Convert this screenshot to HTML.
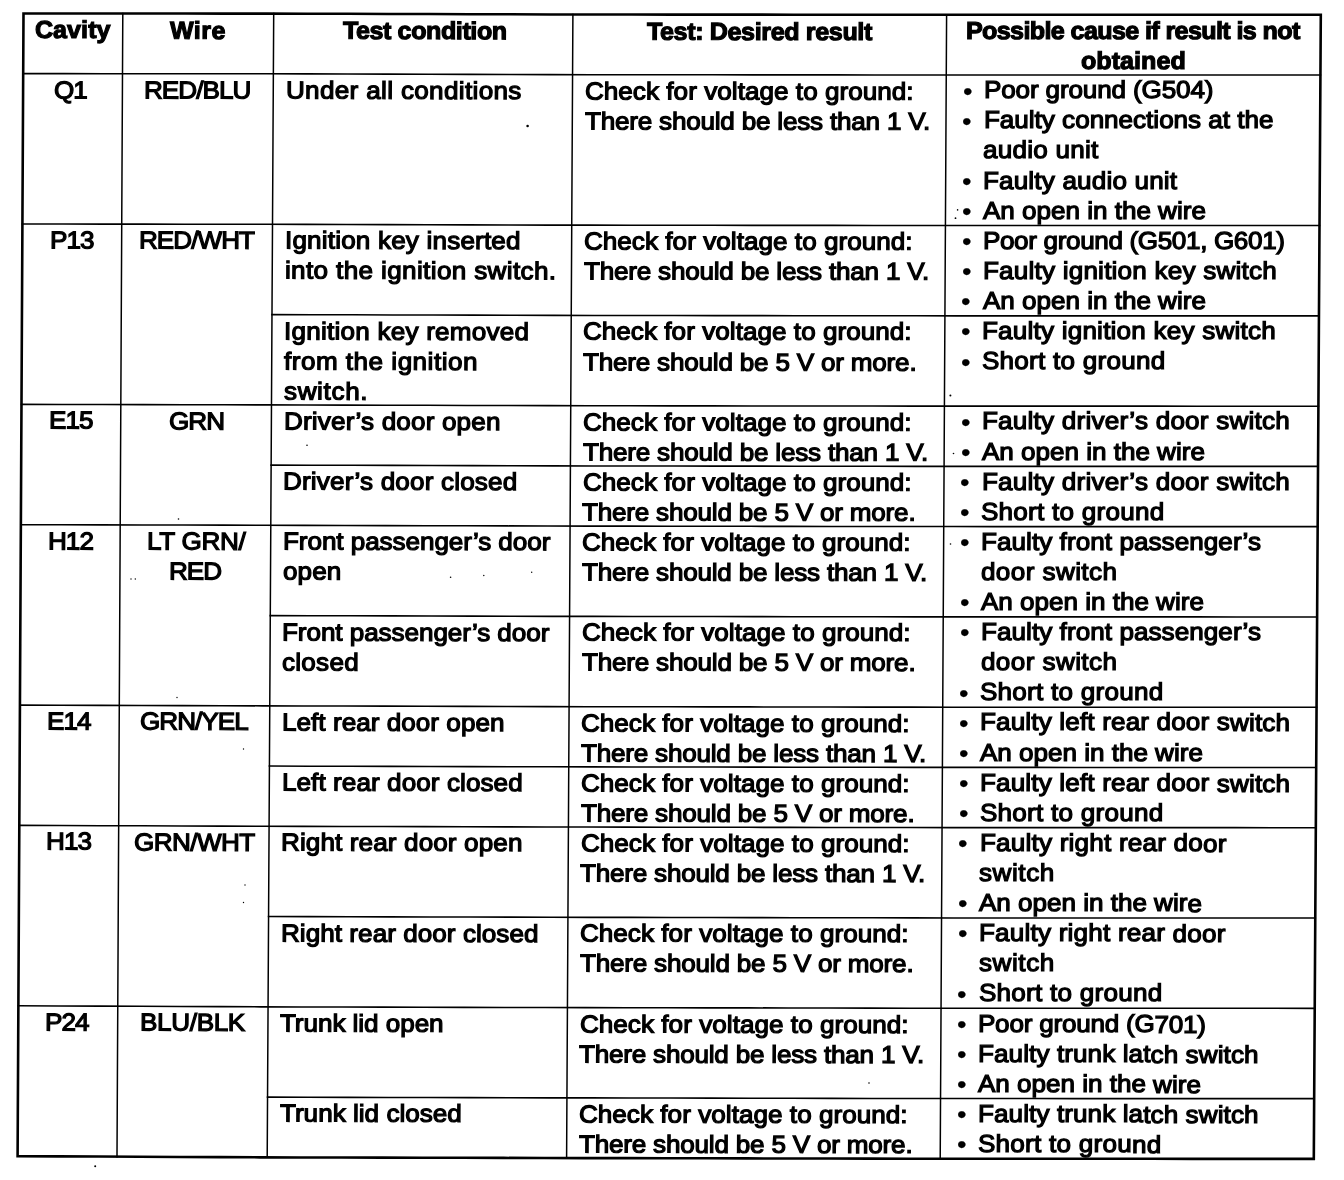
<!DOCTYPE html>
<html><head><meta charset="utf-8"><title>Connector test table</title>
<style>
html,body{margin:0;padding:0;background:#fff;}
body{width:1344px;height:1180px;overflow:hidden;position:relative;}
#pg{position:absolute;left:0;top:0;width:1344px;height:1180px;background:#fff;filter:grayscale(1);}
#pg svg.g{position:absolute;left:0;top:0;}
#pg div{position:absolute;white-space:nowrap;font-family:"Liberation Sans",Arial,sans-serif;font-size:26px;line-height:30.07px;color:#000;-webkit-text-stroke:1.3px #000;transform-origin:0 15.0px;}
#pg div.b{font-size:27px;-webkit-text-stroke:0.3px #000;}
#pg div.h{font-weight:bold;font-size:25px;-webkit-text-stroke:1.2px #000;}
</style></head><body>
<div id="pg">
<svg class="g" width="1344" height="1180" viewBox="0 0 1344 1180" fill="none" stroke="#000" stroke-linecap="square" stroke-linejoin="miter">
<path stroke-width="2.6" d="M23.5 13.5 L64.04 13.52 L104.58 13.53 L145.12 13.55 L185.66 13.56 L226.2 13.58 L266.74 13.6 L307.28 13.7 L347.82 13.82 L388.37 13.94 L428.91 14.07 L469.45 14.19 L509.99 14.31 L550.53 14.43 L591.07 14.51 L631.61 14.55 L672.15 14.58 L712.69 14.61 L753.23 14.64 L793.77 14.68 L834.31 14.71 L874.85 14.74 L915.39 14.77 L955.93 14.8 L996.47 14.8 L1037.02 14.8 L1077.56 14.8 L1118.1 14.8 L1158.64 14.8 L1199.18 14.8 L1239.72 14.8 L1280.26 14.8 L1320.8 14.8 L1320.56 54.25 L1320.32 93.7 L1320.08 133.15 L1319.83 172.6 L1319.59 212.05 L1319.35 251.5 L1319.11 290.95 L1318.87 330.4 L1318.63 369.85 L1318.39 409.3 L1318.14 448.75 L1317.9 488.2 L1317.66 527.65 L1317.42 567.1 L1317.18 606.56 L1316.94 646.01 L1316.7 685.46 L1316.46 724.91 L1316.21 764.36 L1315.97 803.81 L1315.73 843.26 L1315.49 882.71 L1315.25 922.16 L1315.01 961.61 L1314.77 1001.06 L1314.52 1040.51 L1314.28 1079.96 L1314.04 1119.41 L1313.8 1158.86 L1273.32 1158.85 L1232.85 1158.84 L1192.37 1158.83 L1151.9 1158.82 L1111.42 1158.81 L1070.95 1158.79 L1030.47 1158.78 L990 1158.77 L949.52 1158.76 L909 1158.7 L868.47 1158.63 L827.94 1158.55 L787.41 1158.47 L746.88 1158.4 L706.35 1158.32 L665.82 1158.25 L625.29 1158.17 L584.76 1158.09 L544.21 1158.01 L503.65 1157.91 L463.08 1157.82 L422.51 1157.72 L381.94 1157.63 L341.37 1157.53 L300.81 1157.44 L260.28 1157.33 L219.92 1157.13 L179.57 1156.94 L139.22 1156.74 L98.76 1156.55 L58.18 1156.35 L17.6 1156.16 L17.8 1116.76 L18.01 1077.36 L18.21 1037.95 L18.41 998.55 L18.62 959.15 L18.82 919.75 L19.02 880.35 L19.23 840.94 L19.43 801.54 L19.63 762.14 L19.84 722.74 L20.04 683.34 L20.24 643.93 L20.45 604.53 L20.65 565.13 L20.86 525.73 L21.06 486.32 L21.26 446.92 L21.47 407.52 L21.67 368.12 L21.87 328.72 L22.08 289.31 L22.28 249.91 L22.48 210.51 L22.69 171.11 L22.89 131.71 L23.09 92.3 L23.3 52.9 Z"/>
<path stroke-width="1.6" d="M23.19 73.64 L63.73 73.67 L104.28 73.69 L144.81 73.72 L185.34 73.74 L225.87 73.77 L266.4 73.79 L306.94 73.9 L347.49 74.02 L388.03 74.14 L428.57 74.26 L469.11 74.38 L509.65 74.5 L550.2 74.62 L590.74 74.7 L631.28 74.74 L671.82 74.77 L712.36 74.81 L752.9 74.84 L793.44 74.88 L833.98 74.91 L874.52 74.95 L915.06 74.98 L955.6 75.01 L996.13 75.01 L1036.67 75.01 L1077.21 75.01 L1117.75 75.01 L1158.28 75.01 L1198.82 75.01 L1239.36 75.01 L1279.89 75.01 L1320.43 75.01 M22.41 223.99 L62.96 224.04 L103.51 224.09 L144.03 224.14 L184.54 224.19 L225.05 224.24 L265.55 224.28 L306.09 224.39 L346.64 224.51 L387.18 224.62 L427.73 224.74 L468.27 224.86 L508.82 224.97 L549.36 225.09 L589.91 225.17 L630.45 225.21 L670.98 225.26 L711.52 225.3 L752.06 225.34 L792.6 225.38 L833.14 225.42 L873.68 225.46 L914.22 225.5 L954.75 225.53 L995.28 225.53 L1035.81 225.53 L1076.34 225.54 L1116.87 225.54 L1157.4 225.54 L1197.92 225.54 L1238.45 225.54 L1278.98 225.55 L1319.51 225.55 M271.99 314.59 L312.27 314.7 L352.55 314.82 L392.83 314.93 L433.11 315.05 L473.39 315.16 L513.67 315.27 L553.95 315.39 L594.23 315.46 L634.5 315.51 L674.77 315.55 L715.04 315.59 L755.31 315.64 L795.58 315.68 L835.85 315.72 L876.12 315.77 L916.39 315.81 L956.65 315.84 L996.91 315.85 L1037.17 315.85 L1077.42 315.85 L1117.68 315.85 L1157.93 315.86 L1198.19 315.86 L1238.45 315.86 L1278.7 315.87 L1318.96 315.87 M21.48 404.41 L62.04 404.49 L102.59 404.56 L143.1 404.64 L183.58 404.72 L224.05 404.8 L264.53 404.87 L305.07 404.98 L345.62 405.09 L386.17 405.21 L426.72 405.32 L467.27 405.43 L507.82 405.54 L548.37 405.66 L588.91 405.74 L629.45 405.79 L669.99 405.83 L710.52 405.88 L751.06 405.93 L791.6 405.98 L832.13 406.02 L872.67 406.07 L913.21 406.12 L953.74 406.16 L994.26 406.16 L1034.78 406.16 L1075.29 406.17 L1115.81 406.17 L1156.33 406.17 L1196.85 406.18 L1237.37 406.18 L1277.89 406.19 L1318.41 406.19 M271.13 465.08 L311.42 465.19 L351.7 465.31 L391.99 465.42 L432.27 465.53 L472.55 465.64 L512.84 465.75 L553.12 465.86 L593.4 465.93 L633.66 465.98 L673.93 466.03 L714.2 466.08 L754.47 466.13 L794.74 466.18 L835.01 466.23 L875.28 466.28 L915.55 466.33 L955.81 466.36 L996.06 466.37 L1036.3 466.37 L1076.55 466.38 L1116.8 466.38 L1157.05 466.39 L1197.29 466.39 L1237.54 466.39 L1277.79 466.4 L1318.04 466.4 M20.86 524.69 L61.42 524.79 L101.98 524.88 L142.48 524.98 L182.94 525.07 L223.39 525.17 L263.85 525.27 L304.39 525.37 L344.94 525.48 L385.49 525.59 L426.04 525.7 L466.6 525.81 L507.15 525.92 L547.7 526.03 L588.25 526.12 L628.78 526.17 L669.32 526.22 L709.86 526.27 L750.39 526.32 L790.93 526.38 L831.46 526.43 L872 526.48 L912.53 526.53 L953.06 526.57 L993.58 526.58 L1034.09 526.58 L1074.6 526.59 L1115.11 526.59 L1155.62 526.6 L1196.13 526.6 L1236.65 526.61 L1277.16 526.61 L1317.67 526.62 M270.28 615.58 L310.57 615.69 L350.85 615.79 L391.14 615.9 L431.43 616.01 L471.72 616.11 L512 616.22 L552.29 616.33 L592.57 616.41 L632.83 616.46 L673.1 616.52 L713.37 616.57 L753.64 616.63 L793.9 616.68 L834.17 616.74 L874.44 616.79 L914.7 616.85 L954.96 616.89 L995.2 616.89 L1035.44 616.9 L1075.68 616.9 L1115.92 616.91 L1156.16 616.91 L1196.4 616.92 L1236.64 616.93 L1276.88 616.93 L1317.12 616.94 M19.93 705.11 L60.49 705.23 L101.06 705.36 L141.55 705.48 L181.98 705.61 L222.4 705.73 L262.83 705.85 L303.36 705.96 L343.92 706.07 L384.48 706.17 L425.03 706.28 L465.59 706.39 L506.15 706.49 L546.71 706.6 L587.25 706.68 L627.79 706.74 L668.32 706.8 L708.85 706.86 L749.39 706.92 L789.92 706.98 L830.46 707.03 L870.99 707.09 L911.53 707.15 L952.05 707.2 L992.55 707.2 L1033.05 707.21 L1073.56 707.22 L1114.06 707.22 L1154.56 707.23 L1195.06 707.24 L1235.56 707.24 L1276.06 707.25 L1316.56 707.26 M269.42 766.07 L309.71 766.18 L350.01 766.28 L390.3 766.38 L430.59 766.49 L470.88 766.59 L511.17 766.69 L551.46 766.8 L591.74 766.88 L632 766.94 L672.27 767 L712.53 767.06 L752.8 767.12 L793.07 767.18 L833.33 767.24 L873.6 767.3 L913.86 767.36 L954.12 767.41 L994.35 767.41 L1034.58 767.42 L1074.81 767.43 L1115.04 767.44 L1155.27 767.44 L1195.5 767.45 L1235.73 767.46 L1275.96 767.46 L1316.19 767.47 M19.31 825.39 L59.88 825.53 L100.45 825.68 L140.93 825.82 L181.33 825.96 L221.74 826.1 L262.15 826.25 L302.68 826.36 L343.24 826.46 L383.8 826.56 L424.36 826.66 L464.92 826.77 L505.48 826.87 L546.04 826.97 L586.59 827.06 L627.12 827.12 L667.65 827.18 L708.19 827.25 L748.72 827.31 L789.25 827.37 L829.79 827.44 L870.32 827.5 L910.85 827.56 L951.38 827.62 L991.87 827.62 L1032.37 827.63 L1072.86 827.64 L1113.35 827.65 L1153.85 827.65 L1194.34 827.66 L1234.84 827.67 L1275.33 827.68 L1315.83 827.68 M268.57 916.57 L308.86 916.67 L349.16 916.77 L389.45 916.87 L429.75 916.97 L470.04 917.07 L510.33 917.17 L550.63 917.27 L590.91 917.35 L631.17 917.41 L671.44 917.48 L711.7 917.55 L751.96 917.61 L792.23 917.68 L832.49 917.75 L872.76 917.81 L913.02 917.88 L953.27 917.93 L993.5 917.94 L1033.72 917.95 L1073.94 917.95 L1114.16 917.96 L1154.39 917.97 L1194.61 917.98 L1234.83 917.99 L1275.05 918 L1315.27 918.01 M18.38 1005.81 L58.95 1005.98 L99.53 1006.15 L140 1006.32 L180.37 1006.49 L220.75 1006.66 L261.13 1006.84 L301.66 1006.95 L342.22 1007.05 L382.79 1007.14 L423.35 1007.24 L463.92 1007.34 L504.48 1007.44 L545.04 1007.54 L585.59 1007.62 L626.12 1007.69 L666.66 1007.76 L707.19 1007.83 L747.72 1007.9 L788.25 1007.97 L828.78 1008.04 L869.31 1008.11 L909.84 1008.18 L950.36 1008.24 L990.85 1008.25 L1031.33 1008.26 L1071.82 1008.27 L1112.3 1008.28 L1152.78 1008.29 L1193.27 1008.3 L1233.75 1008.31 L1274.24 1008.32 L1314.72 1008.33 M267.54 1097.16 L307.84 1097.26 L348.14 1097.35 L388.44 1097.45 L428.74 1097.54 L469.04 1097.64 L509.33 1097.74 L549.63 1097.83 L589.91 1097.91 L630.17 1097.99 L670.44 1098.06 L710.7 1098.13 L750.96 1098.21 L791.22 1098.28 L831.49 1098.35 L871.75 1098.43 L912.01 1098.5 L952.26 1098.55 L992.47 1098.56 L1032.69 1098.57 L1072.9 1098.59 L1113.11 1098.6 L1153.32 1098.61 L1193.53 1098.62 L1233.74 1098.63 L1273.96 1098.64 L1314.17 1098.65"/>
<path stroke-width="1.5" d="M122.8 13.54 L122.59 54.36 L122.39 95.19 L122.18 136.01 L121.97 176.84 L121.76 217.66 L121.56 258.49 L121.35 299.31 L121.14 340.14 L120.94 380.96 L120.73 421.79 L120.52 462.61 L120.31 503.44 L120.11 544.26 L119.9 585.09 L119.69 625.91 L119.49 666.74 L119.28 707.56 L119.07 748.39 L118.86 789.21 L118.66 830.04 L118.45 870.86 L118.24 911.69 L118.04 952.51 L117.83 993.34 L117.62 1034.16 L117.41 1074.99 L117.21 1115.81 L117 1156.64 M273.7 13.6 L273.47 54.45 L273.24 95.3 L273 136.15 L272.77 176.99 L272.54 217.84 L272.31 258.69 L272.07 299.54 L271.84 340.39 L271.61 381.24 L271.38 422.09 L271.15 462.93 L270.91 503.78 L270.68 544.63 L270.45 585.48 L270.22 626.33 L269.99 667.18 L269.75 708.03 L269.52 748.87 L269.29 789.72 L269.06 830.57 L268.82 871.42 L268.59 912.27 L268.36 953.12 L268.13 993.97 L267.9 1034.81 L267.66 1075.66 L267.43 1116.51 L267.2 1157.36 M572.9 14.5 L572.67 55.34 L572.45 96.18 L572.23 137.02 L572 177.87 L571.77 218.71 L571.55 259.55 L571.32 300.39 L571.1 341.23 L570.88 382.07 L570.65 422.91 L570.42 463.76 L570.2 504.6 L569.98 545.44 L569.75 586.28 L569.52 627.12 L569.3 667.96 L569.07 708.8 L568.85 749.65 L568.62 790.49 L568.4 831.33 L568.17 872.17 L567.95 913.01 L567.73 953.85 L567.5 994.69 L567.27 1035.54 L567.05 1076.38 L566.82 1117.22 L566.6 1158.06 M946.6 14.8 L946.37 55.66 L946.14 96.51 L945.91 137.37 L945.69 178.22 L945.46 219.08 L945.23 259.93 L945 300.79 L944.77 341.65 L944.54 382.5 L944.31 423.36 L944.09 464.21 L943.86 505.07 L943.63 545.92 L943.4 586.78 L943.17 627.64 L942.94 668.49 L942.71 709.35 L942.49 750.2 L942.26 791.06 L942.03 831.91 L941.8 872.77 L941.57 913.63 L941.34 954.48 L941.11 995.34 L940.89 1036.19 L940.66 1077.05 L940.43 1117.9 L940.2 1158.76"/>
<g fill="#000" stroke="none">
<circle cx="527.6" cy="126.0" r="1.3"/>
<circle cx="957.6" cy="209.9" r="0.8"/>
<circle cx="955.5" cy="218.2" r="0.9"/>
<circle cx="950.4" cy="395.5" r="1.0"/>
<circle cx="307" cy="445.2" r="0.8"/>
<circle cx="450.6" cy="577.2" r="0.8"/>
<circle cx="483.8" cy="575.5" r="0.7"/>
<circle cx="531.7" cy="572.3" r="0.7"/>
<circle cx="131" cy="579" r="0.7"/>
<circle cx="135.3" cy="579" r="0.7"/>
<circle cx="178.5" cy="519" r="0.8"/>
<circle cx="95.2" cy="1166.3" r="1.0"/>
<circle cx="869" cy="1083" r="0.8"/>
<circle cx="953.5" cy="453.5" r="0.8"/>
<circle cx="950.5" cy="544" r="0.8"/>
<circle cx="177" cy="697.5" r="0.7"/>
<circle cx="243.5" cy="749" r="0.7"/>
<circle cx="245" cy="885" r="0.7"/>
<circle cx="243.5" cy="902.5" r="0.7"/>
</g>
</svg>
<div class="h" style="left:35.03px;top:14.46px;letter-spacing:0.100px;transform:matrix(1,0.00040,-0.00505,0.98,0,0)">Cavity</div>
<div class="h" style="left:170.33px;top:14.52px;letter-spacing:0.500px;transform:matrix(1,0.00166,-0.00516,0.98,0,0)">Wire</div>
<div class="h" style="left:342.84px;top:14.76px;letter-spacing:-0.369px;transform:matrix(1,0.00301,-0.00554,0.98,0,0)">Test condition</div>
<div class="h" style="left:647.24px;top:15.52px;letter-spacing:-0.326px;transform:matrix(1,0.00080,-0.00542,0.98,0,0)">Test: Desired result</div>
<div class="h" style="left:965.94px;top:15.06px;letter-spacing:-0.573px;transform:matrix(1,0.00000,-0.00552,0.98,0,0)">Possible cause if result is not</div>
<div class="h" style="left:1081.14px;top:45.16px;letter-spacing:0.086px;transform:matrix(1,0.00001,-0.00567,0.98,0,0)">obtained</div>
<div style="left:54.43px;top:74.62px;letter-spacing:-0.900px;transform:matrix(1,0.00063,-0.00483,0.94,0,0)">Q1</div>
<div style="left:143.85px;top:74.67px;letter-spacing:-0.900px;transform:matrix(1,0.00146,-0.00485,0.94,0,0)">RED/BLU</div>
<div style="left:285.55px;top:74.79px;letter-spacing:0.368px;transform:matrix(1,0.00297,-0.00534,0.94,0,0)">Under all conditions</div>
<div style="left:584.76px;top:75.65px;letter-spacing:0.074px;transform:matrix(1,0.00086,-0.00519,0.94,0,0)">Check for voltage to ground:</div>
<div style="left:584.6px;top:105.75px;letter-spacing:-0.172px;transform:matrix(1,0.00089,-0.00519,0.94,0,0)">There should be less than 1 V.</div>
<div class="b" style="left:962.56px;top:76.57px;transform:matrix(1,0.00001,-0.00529,0.94,0,0)">•</div>
<div style="left:983.75px;top:75.27px;letter-spacing:-0.106px;transform:matrix(1,0.00001,-0.00531,0.94,0,0)">Poor ground (G504)</div>
<div class="b" style="left:962.39px;top:106.67px;transform:matrix(1,0.00002,-0.00529,0.94,0,0)">•</div>
<div style="left:983.58px;top:105.37px;letter-spacing:0.021px;transform:matrix(1,0.00002,-0.00531,0.94,0,0)">Faulty connections at the</div>
<div style="left:983.41px;top:135.47px;letter-spacing:0.278px;transform:matrix(1,0.00003,-0.00531,0.94,0,0)">audio unit</div>
<div class="b" style="left:962.05px;top:166.88px;transform:matrix(1,0.00004,-0.00529,0.94,0,0)">•</div>
<div style="left:983.24px;top:165.58px;letter-spacing:0.206px;transform:matrix(1,0.00004,-0.00531,0.94,0,0)">Faulty audio unit</div>
<div class="b" style="left:961.88px;top:196.98px;transform:matrix(1,0.00004,-0.00529,0.94,0,0)">•</div>
<div style="left:983.07px;top:195.68px;letter-spacing:0.017px;transform:matrix(1,0.00004,-0.00531,0.94,0,0)">An open in the wire</div>
<div style="left:50.47px;top:224.98px;letter-spacing:-0.900px;transform:matrix(1,0.00121,-0.00483,0.94,0,0)">P13</div>
<div style="left:139.08px;top:225.09px;letter-spacing:-0.883px;transform:matrix(1,0.00177,-0.00484,0.94,0,0)">RED/WHT</div>
<div style="left:284.7px;top:225.28px;letter-spacing:0.215px;transform:matrix(1,0.00288,-0.00534,0.94,0,0)">Ignition key inserted</div>
<div style="left:284.53px;top:255.38px;letter-spacing:0.396px;transform:matrix(1,0.00287,-0.00534,0.94,0,0)">into the ignition switch.</div>
<div style="left:583.93px;top:226.12px;letter-spacing:0.074px;transform:matrix(1,0.00100,-0.00519,0.94,0,0)">Check for voltage to ground:</div>
<div style="left:583.77px;top:256.22px;letter-spacing:-0.172px;transform:matrix(1,0.00103,-0.00519,0.94,0,0)">There should be less than 1 V.</div>
<div class="b" style="left:961.71px;top:227.09px;transform:matrix(1,0.00005,-0.00529,0.94,0,0)">•</div>
<div style="left:982.9px;top:225.79px;letter-spacing:-0.317px;transform:matrix(1,0.00005,-0.00531,0.94,0,0)">Poor ground (G501, G601)</div>
<div class="b" style="left:961.54px;top:257.19px;transform:matrix(1,0.00006,-0.00529,0.94,0,0)">•</div>
<div style="left:982.73px;top:255.89px;letter-spacing:0.244px;transform:matrix(1,0.00006,-0.00531,0.94,0,0)">Faulty ignition key switch</div>
<div class="b" style="left:961.37px;top:287.3px;transform:matrix(1,0.00006,-0.00529,0.94,0,0)">•</div>
<div style="left:982.56px;top:286px;letter-spacing:0.017px;transform:matrix(1,0.00006,-0.00531,0.94,0,0)">An open in the wire</div>
<div style="left:284.19px;top:315.58px;letter-spacing:0.268px;transform:matrix(1,0.00283,-0.00534,0.94,0,0)">Ignition key removed</div>
<div style="left:284.02px;top:345.68px;letter-spacing:0.531px;transform:matrix(1,0.00281,-0.00534,0.94,0,0)">from the ignition</div>
<div style="left:283.84px;top:375.78px;letter-spacing:0.683px;transform:matrix(1,0.00280,-0.00534,0.94,0,0)">switch.</div>
<div style="left:583.44px;top:316.41px;letter-spacing:0.074px;transform:matrix(1,0.00109,-0.00519,0.94,0,0)">Check for voltage to ground:</div>
<div style="left:583.27px;top:346.5px;letter-spacing:-0.167px;transform:matrix(1,0.00111,-0.00519,0.94,0,0)">There should be 5 V or more.</div>
<div class="b" style="left:961.2px;top:317.4px;transform:matrix(1,0.00007,-0.00529,0.94,0,0)">•</div>
<div style="left:982.39px;top:316.1px;letter-spacing:0.244px;transform:matrix(1,0.00007,-0.00531,0.94,0,0)">Faulty ignition key switch</div>
<div class="b" style="left:961.03px;top:347.5px;transform:matrix(1,0.00008,-0.00529,0.94,0,0)">•</div>
<div style="left:982.22px;top:346.21px;letter-spacing:0.286px;transform:matrix(1,0.00008,-0.00531,0.94,0,0)">Short to ground</div>
<div style="left:49.37px;top:405.42px;letter-spacing:-0.900px;transform:matrix(1,0.00191,-0.00483,0.94,0,0)">E15</div>
<div style="left:168.62px;top:405.65px;letter-spacing:-0.900px;transform:matrix(1,0.00233,-0.00495,0.94,0,0)">GRN</div>
<div style="left:283.67px;top:405.88px;letter-spacing:0.206px;transform:matrix(1,0.00278,-0.00534,0.94,0,0)">Driver’s door open</div>
<div style="left:582.94px;top:406.69px;letter-spacing:0.074px;transform:matrix(1,0.00117,-0.00519,0.94,0,0)">Check for voltage to ground:</div>
<div style="left:582.77px;top:436.78px;letter-spacing:-0.172px;transform:matrix(1,0.00120,-0.00519,0.94,0,0)">There should be less than 1 V.</div>
<div class="b" style="left:960.7px;top:407.71px;transform:matrix(1,0.00009,-0.00529,0.94,0,0)">•</div>
<div style="left:981.88px;top:406.42px;letter-spacing:0.262px;transform:matrix(1,0.00009,-0.00531,0.94,0,0)">Faulty driver’s door switch</div>
<div class="b" style="left:960.53px;top:437.82px;transform:matrix(1,0.00010,-0.00529,0.94,0,0)">•</div>
<div style="left:981.71px;top:436.52px;letter-spacing:0.017px;transform:matrix(1,0.00010,-0.00531,0.94,0,0)">An open in the wire</div>
<div style="left:283.33px;top:466.07px;letter-spacing:0.211px;transform:matrix(1,0.00274,-0.00534,0.94,0,0)">Driver’s door closed</div>
<div style="left:582.61px;top:466.88px;letter-spacing:0.074px;transform:matrix(1,0.00123,-0.00519,0.94,0,0)">Check for voltage to ground:</div>
<div style="left:582.44px;top:496.97px;letter-spacing:-0.167px;transform:matrix(1,0.00125,-0.00519,0.94,0,0)">There should be 5 V or more.</div>
<div class="b" style="left:960.36px;top:467.92px;transform:matrix(1,0.00011,-0.00529,0.94,0,0)">•</div>
<div style="left:981.54px;top:466.62px;letter-spacing:0.262px;transform:matrix(1,0.00011,-0.00531,0.94,0,0)">Faulty driver’s door switch</div>
<div class="b" style="left:960.19px;top:498.03px;transform:matrix(1,0.00011,-0.00529,0.94,0,0)">•</div>
<div style="left:981.37px;top:496.73px;letter-spacing:0.286px;transform:matrix(1,0.00011,-0.00531,0.94,0,0)">Short to ground</div>
<div style="left:48.06px;top:525.71px;letter-spacing:-0.900px;transform:matrix(1,0.00237,-0.00483,0.94,0,0)">H12</div>
<div style="left:146.53px;top:525.94px;letter-spacing:-0.233px;transform:matrix(1,0.00250,-0.00487,0.94,0,0)">LT GRN/</div>
<div style="left:168.74px;top:556.08px;letter-spacing:-0.900px;transform:matrix(1,0.00259,-0.00496,0.94,0,0)">RED</div>
<div style="left:282.99px;top:526.27px;letter-spacing:-0.024px;transform:matrix(1,0.00271,-0.00534,0.94,0,0)">Front passenger’s door</div>
<div style="left:282.82px;top:556.37px;letter-spacing:0.167px;transform:matrix(1,0.00269,-0.00534,0.94,0,0)">open</div>
<div style="left:582.27px;top:527.07px;letter-spacing:0.074px;transform:matrix(1,0.00128,-0.00519,0.94,0,0)">Check for voltage to ground:</div>
<div style="left:582.11px;top:557.16px;letter-spacing:-0.172px;transform:matrix(1,0.00131,-0.00519,0.94,0,0)">There should be less than 1 V.</div>
<div class="b" style="left:960.02px;top:528.13px;transform:matrix(1,0.00012,-0.00529,0.94,0,0)">•</div>
<div style="left:981.2px;top:526.83px;letter-spacing:0.091px;transform:matrix(1,0.00012,-0.00531,0.94,0,0)">Faulty front passenger’s</div>
<div style="left:981.03px;top:556.94px;letter-spacing:0.450px;transform:matrix(1,0.00013,-0.00531,0.94,0,0)">door switch</div>
<div class="b" style="left:959.68px;top:588.34px;transform:matrix(1,0.00013,-0.00529,0.94,0,0)">•</div>
<div style="left:980.86px;top:587.04px;letter-spacing:0.017px;transform:matrix(1,0.00013,-0.00531,0.94,0,0)">An open in the wire</div>
<div style="left:282.48px;top:616.57px;letter-spacing:-0.024px;transform:matrix(1,0.00266,-0.00534,0.94,0,0)">Front passenger’s door</div>
<div style="left:282.31px;top:646.67px;letter-spacing:0.300px;transform:matrix(1,0.00264,-0.00534,0.94,0,0)">closed</div>
<div style="left:581.78px;top:617.35px;letter-spacing:0.074px;transform:matrix(1,0.00137,-0.00519,0.94,0,0)">Check for voltage to ground:</div>
<div style="left:581.61px;top:647.44px;letter-spacing:-0.167px;transform:matrix(1,0.00140,-0.00519,0.94,0,0)">There should be 5 V or more.</div>
<div class="b" style="left:959.51px;top:618.44px;transform:matrix(1,0.00014,-0.00529,0.94,0,0)">•</div>
<div style="left:980.69px;top:617.15px;letter-spacing:0.091px;transform:matrix(1,0.00014,-0.00531,0.94,0,0)">Faulty front passenger’s</div>
<div style="left:980.52px;top:647.25px;letter-spacing:0.450px;transform:matrix(1,0.00015,-0.00531,0.94,0,0)">door switch</div>
<div class="b" style="left:959.17px;top:678.65px;transform:matrix(1,0.00015,-0.00529,0.94,0,0)">•</div>
<div style="left:980.35px;top:677.36px;letter-spacing:0.286px;transform:matrix(1,0.00015,-0.00531,0.94,0,0)">Short to ground</div>
<div style="left:47.26px;top:706.15px;letter-spacing:-0.900px;transform:matrix(1,0.00306,-0.00483,0.94,0,0)">E14</div>
<div style="left:139.78px;top:706.43px;letter-spacing:-0.900px;transform:matrix(1,0.00290,-0.00485,0.94,0,0)">GRN/YEL</div>
<div style="left:281.97px;top:706.86px;letter-spacing:0.072px;transform:matrix(1,0.00260,-0.00534,0.94,0,0)">Left rear door open</div>
<div style="left:581.28px;top:707.63px;letter-spacing:0.074px;transform:matrix(1,0.00145,-0.00519,0.94,0,0)">Check for voltage to ground:</div>
<div style="left:581.11px;top:737.72px;letter-spacing:-0.172px;transform:matrix(1,0.00148,-0.00519,0.94,0,0)">There should be less than 1 V.</div>
<div class="b" style="left:959.01px;top:708.76px;transform:matrix(1,0.00016,-0.00529,0.94,0,0)">•</div>
<div style="left:980.18px;top:707.46px;letter-spacing:0.189px;transform:matrix(1,0.00016,-0.00531,0.94,0,0)">Faulty left rear door switch</div>
<div class="b" style="left:958.84px;top:738.86px;transform:matrix(1,0.00017,-0.00529,0.94,0,0)">•</div>
<div style="left:980.01px;top:737.56px;letter-spacing:0.017px;transform:matrix(1,0.00017,-0.00531,0.94,0,0)">An open in the wire</div>
<div style="left:281.62px;top:767.06px;letter-spacing:0.110px;transform:matrix(1,0.00257,-0.00534,0.94,0,0)">Left rear door closed</div>
<div style="left:580.95px;top:767.82px;letter-spacing:0.074px;transform:matrix(1,0.00151,-0.00519,0.94,0,0)">Check for voltage to ground:</div>
<div style="left:580.78px;top:797.91px;letter-spacing:-0.167px;transform:matrix(1,0.00154,-0.00519,0.94,0,0)">There should be 5 V or more.</div>
<div class="b" style="left:958.67px;top:768.97px;transform:matrix(1,0.00018,-0.00529,0.94,0,0)">•</div>
<div style="left:979.84px;top:767.67px;letter-spacing:0.189px;transform:matrix(1,0.00018,-0.00531,0.94,0,0)">Faulty left rear door switch</div>
<div class="b" style="left:958.5px;top:799.07px;transform:matrix(1,0.00018,-0.00529,0.94,0,0)">•</div>
<div style="left:979.67px;top:797.77px;letter-spacing:0.286px;transform:matrix(1,0.00018,-0.00531,0.94,0,0)">Short to ground</div>
<div style="left:45.7px;top:826.44px;letter-spacing:-0.800px;transform:matrix(1,0.00353,-0.00483,0.94,0,0)">H13</div>
<div style="left:133.82px;top:826.75px;letter-spacing:-0.500px;transform:matrix(1,0.00321,-0.00483,0.94,0,0)">GRN/WHT</div>
<div style="left:281.28px;top:827.26px;letter-spacing:0.153px;transform:matrix(1,0.00253,-0.00534,0.94,0,0)">Right rear door open</div>
<div style="left:580.62px;top:828.01px;letter-spacing:0.074px;transform:matrix(1,0.00156,-0.00519,0.94,0,0)">Check for voltage to ground:</div>
<div style="left:580.45px;top:858.1px;letter-spacing:-0.172px;transform:matrix(1,0.00159,-0.00519,0.94,0,0)">There should be less than 1 V.</div>
<div class="b" style="left:958.33px;top:829.17px;transform:matrix(1,0.00019,-0.00529,0.94,0,0)">•</div>
<div style="left:979.5px;top:827.88px;letter-spacing:0.243px;transform:matrix(1,0.00019,-0.00531,0.94,0,0)">Faulty right rear door</div>
<div style="left:979.33px;top:857.98px;letter-spacing:0.600px;transform:matrix(1,0.00020,-0.00531,0.94,0,0)">switch</div>
<div class="b" style="left:957.99px;top:889.38px;transform:matrix(1,0.00020,-0.00529,0.94,0,0)">•</div>
<div style="left:979.16px;top:888.09px;letter-spacing:0.017px;transform:matrix(1,0.00020,-0.00531,0.94,0,0)">An open in the wire</div>
<div style="left:280.77px;top:917.56px;letter-spacing:0.081px;transform:matrix(1,0.00248,-0.00534,0.94,0,0)">Right rear door closed</div>
<div style="left:580.12px;top:918.29px;letter-spacing:0.074px;transform:matrix(1,0.00165,-0.00519,0.94,0,0)">Check for voltage to ground:</div>
<div style="left:579.95px;top:948.38px;letter-spacing:-0.167px;transform:matrix(1,0.00168,-0.00519,0.94,0,0)">There should be 5 V or more.</div>
<div class="b" style="left:957.82px;top:919.49px;transform:matrix(1,0.00021,-0.00529,0.94,0,0)">•</div>
<div style="left:978.99px;top:918.19px;letter-spacing:0.243px;transform:matrix(1,0.00021,-0.00531,0.94,0,0)">Faulty right rear door</div>
<div style="left:978.82px;top:948.3px;letter-spacing:0.600px;transform:matrix(1,0.00022,-0.00531,0.94,0,0)">switch</div>
<div class="b" style="left:957.48px;top:979.7px;transform:matrix(1,0.00023,-0.00529,0.94,0,0)">•</div>
<div style="left:978.65px;top:978.4px;letter-spacing:0.286px;transform:matrix(1,0.00023,-0.00531,0.94,0,0)">Short to ground</div>
<div style="left:45.45px;top:1006.88px;letter-spacing:-0.900px;transform:matrix(1,0.00422,-0.00483,0.94,0,0)">P24</div>
<div style="left:139.74px;top:1007.28px;letter-spacing:-0.283px;transform:matrix(1,0.00358,-0.00486,0.94,0,0)">BLU/BLK</div>
<div style="left:280.26px;top:1007.85px;letter-spacing:-0.015px;transform:matrix(1,0.00243,-0.00534,0.94,0,0)">Trunk lid open</div>
<div style="left:579.62px;top:1008.57px;letter-spacing:0.074px;transform:matrix(1,0.00173,-0.00519,0.94,0,0)">Check for voltage to ground:</div>
<div style="left:579.45px;top:1038.66px;letter-spacing:-0.172px;transform:matrix(1,0.00176,-0.00519,0.94,0,0)">There should be less than 1 V.</div>
<div class="b" style="left:957.31px;top:1009.8px;transform:matrix(1,0.00023,-0.00529,0.94,0,0)">•</div>
<div style="left:978.48px;top:1008.5px;letter-spacing:-0.188px;transform:matrix(1,0.00023,-0.00531,0.94,0,0)">Poor ground (G701)</div>
<div class="b" style="left:957.14px;top:1039.9px;transform:matrix(1,0.00024,-0.00529,0.94,0,0)">•</div>
<div style="left:978.31px;top:1038.61px;letter-spacing:0.129px;transform:matrix(1,0.00024,-0.00531,0.94,0,0)">Faulty trunk latch switch</div>
<div class="b" style="left:956.98px;top:1070.01px;transform:matrix(1,0.00025,-0.00529,0.94,0,0)">•</div>
<div style="left:978.14px;top:1068.71px;letter-spacing:0.017px;transform:matrix(1,0.00025,-0.00531,0.94,0,0)">An open in the wire</div>
<div style="left:279.74px;top:1098.15px;letter-spacing:0.047px;transform:matrix(1,0.00237,-0.00534,0.94,0,0)">Trunk lid closed</div>
<div style="left:579.12px;top:1098.85px;letter-spacing:0.074px;transform:matrix(1,0.00182,-0.00519,0.94,0,0)">Check for voltage to ground:</div>
<div style="left:578.96px;top:1128.95px;letter-spacing:-0.167px;transform:matrix(1,0.00185,-0.00519,0.94,0,0)">There should be 5 V or more.</div>
<div class="b" style="left:956.81px;top:1100.11px;transform:matrix(1,0.00025,-0.00529,0.94,0,0)">•</div>
<div style="left:977.97px;top:1098.82px;letter-spacing:0.129px;transform:matrix(1,0.00025,-0.00531,0.94,0,0)">Faulty trunk latch switch</div>
<div class="b" style="left:956.64px;top:1130.22px;transform:matrix(1,0.00026,-0.00529,0.94,0,0)">•</div>
<div style="left:977.8px;top:1128.92px;letter-spacing:0.286px;transform:matrix(1,0.00026,-0.00531,0.94,0,0)">Short to ground</div>
</div>
</body></html>
